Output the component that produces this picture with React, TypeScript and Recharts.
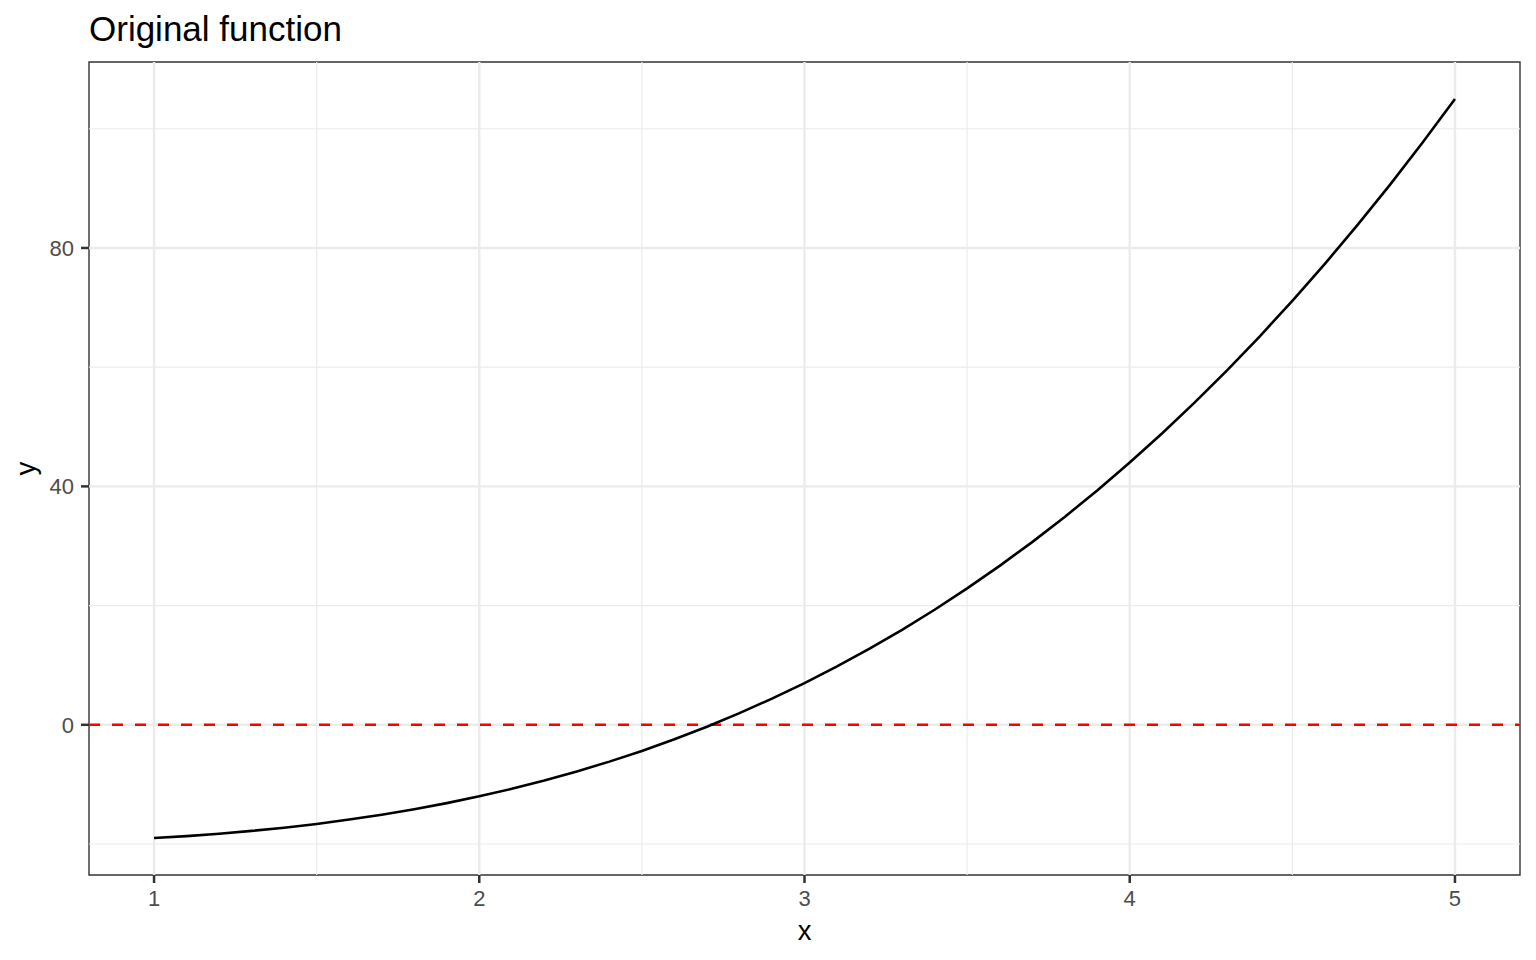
import React from 'react';
import { LineChart, Line, XAxis, YAxis, ReferenceLine, ReferenceArea } from 'recharts';

const xValues = [1.0, 1.1, 1.2, 1.3, 1.4, 1.5, 1.6, 1.7, 1.8, 1.9, 2.0, 2.1, 2.2, 2.3, 2.4, 2.5, 2.6, 2.7, 2.8, 2.9, 3.0, 3.1, 3.2, 3.3, 3.4, 3.5, 3.6, 3.7, 3.8, 3.9, 4.0, 4.1, 4.2, 4.3, 4.4, 4.5, 4.6, 4.7, 4.8, 4.9, 5.0];
const yValues = [-19.0, -18.67, -18.27, -17.8, -17.26, -16.63, -15.9, -15.09, -14.17, -13.14, -12.0, -10.74, -9.35, -7.83, -6.18, -4.38, -2.42, -0.32, 1.95, 4.39, 7.0, 9.79, 12.77, 15.94, 19.3, 22.88, 26.66, 30.65, 34.87, 39.32, 44.0, 48.92, 54.09, 59.51, 65.18, 71.13, 77.34, 83.82, 90.59, 97.65, 105.0];

const xTicks = [1, 2, 3, 4, 5];
const yTicks = [0, 40, 80];
const xMinor = [1.5, 2.5, 3.5, 4.5];
const yMinor = [-20, 20, 60, 100];
const xDomain = [0.8, 5.2];
const yDomain = [-25.2, 111.2];
const zeroLine = 0;

const data = xValues.map((x, i) => ({ x, y: yValues[i] }));

const FONT = '"Liberation Sans", Arial, Helvetica, sans-serif';
const GRID = '#ebebeb';

export default function App() {
  return (
    <div style={{ position: 'absolute', left: 0, top: 0, width: 1536, height: 960, background: '#fff', fontFamily: FONT }}>
      <LineChart width={1536} height={960} data={data} margin={{ top: 62, right: 16, bottom: 0, left: 0 }}>
        <XAxis
          dataKey="x"
          type="number"
          domain={xDomain}
          ticks={xTicks}
          allowDataOverflow
          height={85}
          axisLine={false}
          tickSize={8}
          tickMargin={7}
          tickLine={{ stroke: '#333333', strokeWidth: 2.5 }}
          tick={{ fontSize: 22, fill: '#4d4d4d', fontFamily: FONT }}
        />
        <YAxis
          type="number"
          domain={yDomain}
          ticks={yTicks}
          allowDataOverflow
          width={89}
          axisLine={false}
          tickSize={8}
          tickMargin={7}
          tickLine={{ stroke: '#333333', strokeWidth: 2.5 }}
          tick={{ fontSize: 22, fill: '#4d4d4d', fontFamily: FONT }}
        />
        {xMinor.map((v) => (
          <ReferenceLine key={'xm' + v} x={v} stroke={GRID} strokeWidth={1.2} />
        ))}
        {yMinor.map((v) => (
          <ReferenceLine key={'ym' + v} y={v} stroke={GRID} strokeWidth={1.2} />
        ))}
        {xTicks.map((v) => (
          <ReferenceLine key={'xM' + v} x={v} stroke={GRID} strokeWidth={2.4} />
        ))}
        {yTicks.map((v) => (
          <ReferenceLine key={'yM' + v} y={v} stroke={GRID} strokeWidth={2.4} />
        ))}
        <ReferenceLine y={zeroLine} stroke="#ff0000" strokeWidth={2.6} strokeDasharray="11 12" />
        <Line
          dataKey="y"
          type="linear"
          stroke="#000000"
          strokeWidth={2.6}
          dot={false}
          activeDot={false}
          isAnimationActive={false}
        />
        <ReferenceArea
          x1={xDomain[0]}
          x2={xDomain[1]}
          y1={yDomain[0]}
          y2={yDomain[1]}
          fill="none"
          fillOpacity={0}
          stroke="#333333"
          strokeWidth={1.4}
        />
      </LineChart>
      <svg width={1536} height={960} style={{ position: 'absolute', left: 0, top: 0, pointerEvents: 'none' }}>
        <text x={89} y={41} fontSize={35} fill="#000" fontFamily={FONT}>Original function</text>
        <text x={804.5} y={940} fontSize={27.5} fill="#000" fontFamily={FONT} textAnchor="middle">x</text>
        <text x={35} y={468.5} fontSize={27.5} fill="#000" fontFamily={FONT} textAnchor="middle" transform="rotate(-90 35 468.5)">y</text>
      </svg>
    </div>
  );
}
